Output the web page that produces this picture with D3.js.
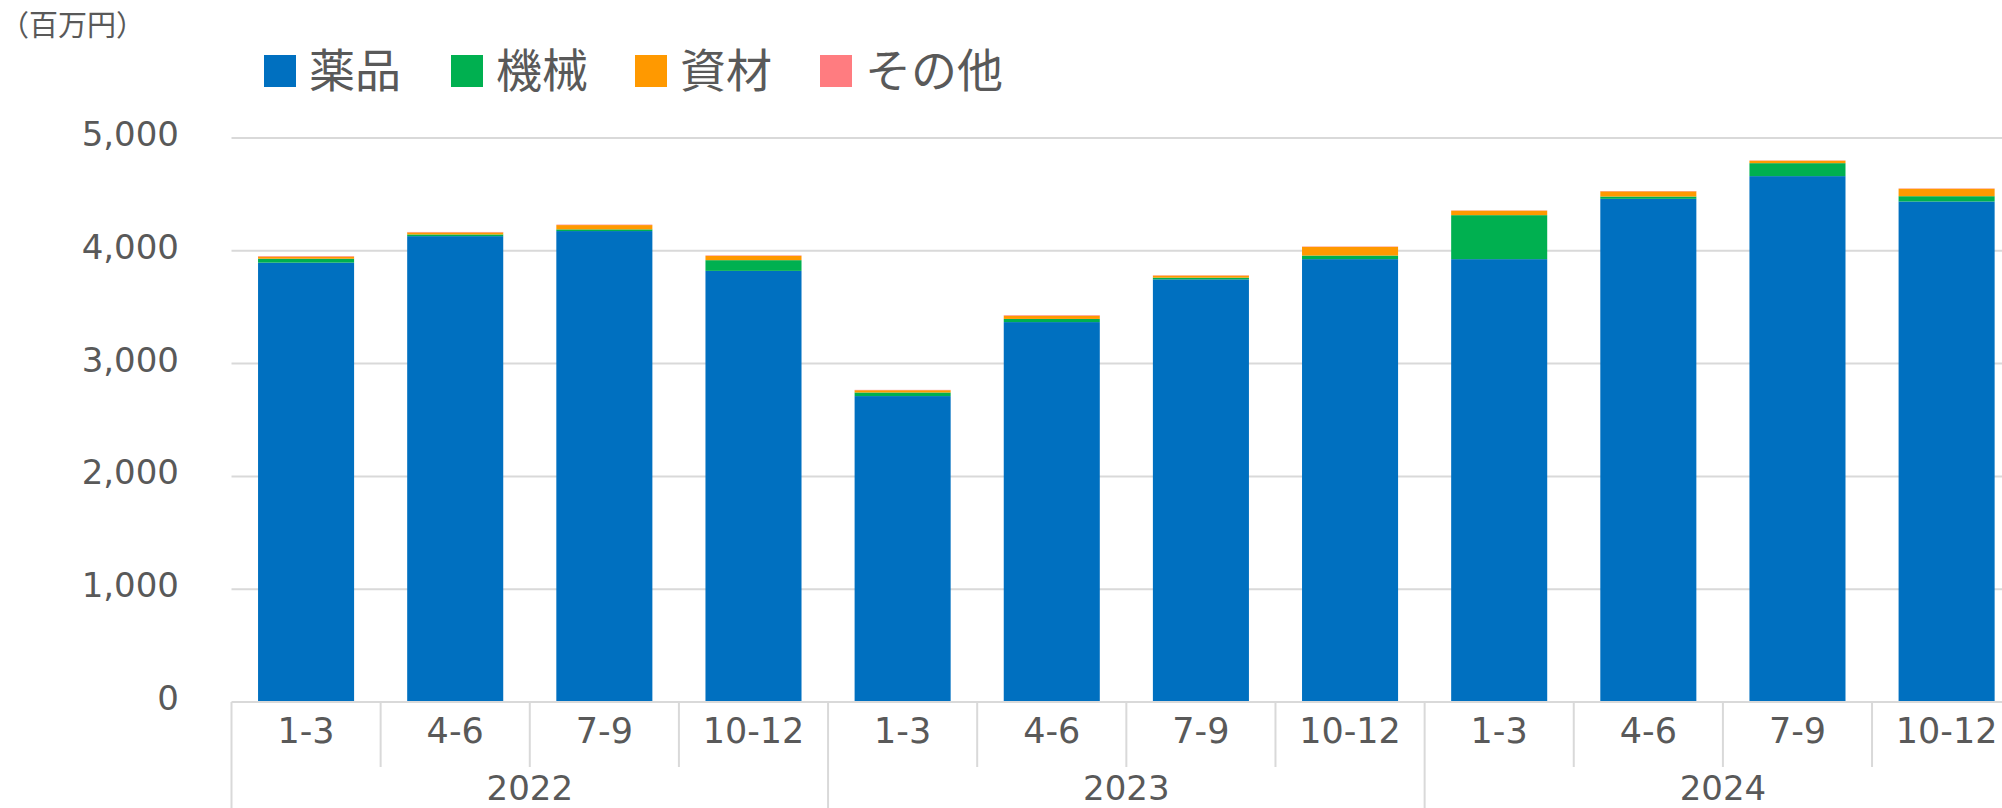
<!doctype html>
<html lang="ja">
    <head>
        <meta charset="utf-8">
        <title>売上推移</title>
        <script src="https://cdn.jsdelivr.net/npm/d3@7/dist/d3.min.js"></script>
        <style>
            body { margin: 0; background: #fff; overflow: hidden; }
            text { fill: #595959; }
        </style>
    </head>
    <body>
        <div id="chart"></div>

        <script type="text/javascript">

            // quarters along the bottom, years under them
            var quarters = ["1-3", "4-6", "7-9", "10-12", "1-3", "4-6", "7-9", "10-12", "1-3", "4-6", "7-9", "10-12"];
            var years = ["2022", "2023", "2024"];

            // values (百万円)
            var yakuhin = [3895, 4130, 4175, 3822, 2712, 3368, 3747, 3926, 3926, 4461, 4662, 4437];
            var kikai   = [  35,   15,   15,   95,   32,   28,   15,   32,  390,   20,  115,   47];
            var shizai  = [  18,   18,   38,   38,   20,   28,   18,   77,   40,   46,   22,   66];
            var sonota  = [   5,    4,    4,    4,    3,    5,    3,    3,    2,    3,    2,    3];

            var seriesNames = ["薬品", "機械", "資材", "その他"];
            var seriesColors = ["#0070c0", "#00b050", "#ff9900", "#ff7c80"];
            var yTicks = [0, 1000, 2000, 3000, 4000, 5000];

            var W = 2002, H = 808;
            var left = 231.5, base = 702, top5000 = 138;
            var step = 149.14;

            var svg = d3.select("#chart").append("svg").attr("width", W).attr("height", H);

            var x = d3.scaleBand()
                .domain(d3.range(quarters.length))
                .range([left, left + step * quarters.length])
                .paddingInner(0.356)
                .paddingOuter(0.178);

            var y = d3.scaleLinear().domain([0, 5000]).range([base, top5000]);

            // grid lines
            svg.append("g").selectAll("line")
                .data(yTicks.filter(function(d){ return d > 0; }))
                .enter().append("line")
                .attr("x1", left).attr("x2", W)
                .attr("y1", function(d){ return y(d); })
                .attr("y2", function(d){ return y(d); })
                .attr("stroke", "#d9d9d9")
                .attr("stroke-width", 2);

            // y labels
            svg.append("g").selectAll("text")
                .data(yTicks)
                .enter().append("text")
                .attr("x", 179)
                .attr("y", function(d){ return y(d) + 8; })
                .attr("text-anchor", "end")
                .attr("font-family", "DejaVu Sans, Verdana, sans-serif")
                .attr("font-size", "34px")
                .text(function(d){ return d3.format(",")(d); });

            // stacked bars
            var rows = quarters.map(function(q, i){
                return { i: i, a: yakuhin[i], b: kikai[i], c: shizai[i], d: sonota[i] };
            });
            var stack = d3.stack().keys(["a", "b", "c", "d"]);
            var layers = stack(rows);

            svg.append("g").selectAll("g")
                .data(layers)
                .enter().append("g")
                .attr("fill", function(d, k){ return seriesColors[k]; })
                .selectAll("rect")
                .data(function(d){ return d; })
                .enter().append("rect")
                .attr("x", function(d){ return x(d.data.i); })
                .attr("width", x.bandwidth())
                .attr("y", function(d){ return y(d[1]); })
                .attr("height", function(d){ return y(d[0]) - y(d[1]); });

            // baseline
            svg.append("line")
                .attr("x1", left).attr("x2", W)
                .attr("y1", base).attr("y2", base)
                .attr("stroke", "#d9d9d9").attr("stroke-width", 2);

            // category dividers, longer ones between years
            var bounds = d3.range(quarters.length + 1);
            svg.append("g").selectAll("line")
                .data(bounds)
                .enter().append("line")
                .attr("x1", function(d){ return left + d * step; })
                .attr("x2", function(d){ return left + d * step; })
                .attr("y1", base)
                .attr("y2", function(d){ return d % 4 === 0 ? H : 767; })
                .attr("stroke", "#d9d9d9").attr("stroke-width", 2);

            // quarter labels
            svg.append("g").selectAll("text")
                .data(quarters)
                .enter().append("text")
                .attr("x", function(d, i){ return x(i) + x.bandwidth() / 2; })
                .attr("y", 743)
                .attr("text-anchor", "middle")
                .attr("font-family", "DejaVu Sans, Verdana, sans-serif")
                .attr("font-size", "35px")
                .text(function(d){ return d; });

            // year labels
            svg.append("g").selectAll("text")
                .data(years)
                .enter().append("text")
                .attr("x", function(d, i){ return left + (i * 4 + 2) * step; })
                .attr("y", 800)
                .attr("text-anchor", "middle")
                .attr("font-family", "DejaVu Sans, Verdana, sans-serif")
                .attr("font-size", "34px")
                .text(function(d){ return d; });

            // unit
            svg.append("text")
                .attr("x", 0).attr("y", 36)
                .attr("font-family", "Noto Sans CJK JP, sans-serif")
                .attr("font-size", "29px")
                .text("（百万円）");

            // legend
            var legendX = [264, 451, 635, 820];
            var lg = svg.append("g").selectAll("g")
                .data(seriesNames)
                .enter().append("g")
                .attr("transform", function(d, i){ return "translate(" + legendX[i] + ",55)"; });

            lg.append("rect")
                .attr("width", 32).attr("height", 32)
                .attr("fill", function(d, i){ return seriesColors[i]; });

            lg.append("text")
                .attr("x", 45).attr("y", 32)
                .attr("font-family", "Noto Sans CJK JP, sans-serif")
                .attr("font-size", "46px")
                .text(function(d){ return d; });

        </script>
    </body>
</html>
